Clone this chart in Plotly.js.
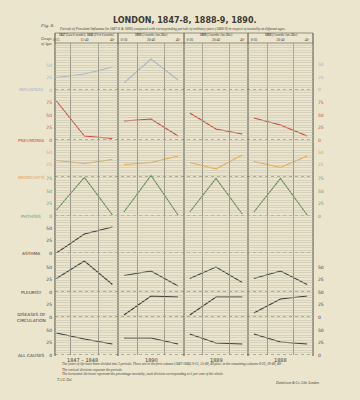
<!DOCTYPE html>
<html><head><meta charset="utf-8">
<script src="https://cdn.plot.ly/plotly-3.0.1.min.js"></script>
<style>html,body{margin:0;padding:0;background:#ebe5cd;} #chart{width:360px;height:400px;}</style>
</head><body><div id="chart"></div>
<script>
// ---------- DATA ----------
const periods = ["1847 – 1848", "1890", "1889", "1888"];
const periodHeaders = [
  "<b>1847</b> <i>(Last 6 months)</i>  <b>1848</b> <i>(First 6 months)</i>",
  "<b>1890</b> <i>(3 months Jan–Mar)</i>",
  "<b>1889</b> <i>(3 months Jan–Mar)</i>",
  "<b>1888</b> <i>(3 months Jan–Mar)</i>"
];
const ageGroupsFirst = ["0-15", "15-40", "40-"];
const ageGroups = ["0-20", "20-40", "40-"];
const diseases = ["INFLUENZA", "PNEUMONIA", "BRONCHITIS", "PHTHISIS", "ASTHMA", "PLEURISY", "DISEASES OF<br>CIRCULATION", "ALL CAUSES"];
// percentage mortality by age group, one row per period (null = no line)
const influenza   = [[25, 32, 46], [14, 62, 20], null, null];
const pneumonia   = [[78, 8, 3], [38, 42, 8], [54, 22, 12], [44, 30, 8]];
const bronchitis  = [[33, 27, 35], [25, 29, 42], [29, 16, 44], [31, 19, 42]];
const phthisis    = [[12, 77, 2], [8, 81, 2], [8, 75, 4], [8, 75, 2]];
const asthma      = [[0, 38, 52], null, null, null];
const pleurisy    = [[27, 62, 15], [33, 42, 12], [27, 50, 19], [27, 42, 15]];
const circulation = [null, [4, 42, 40], [4, 40, 40], [8, 36, 42]];
const allCauses   = [[44, 32, 22], [34, 34, 22], [42, 24, 22], [42, 26, 22]];
const leftTicks  = [[0, 25, 50], [0, 25, 50, 75], [25, 50], [0, 25, 50, 75], [0, 25, 50], [0, 25, 50], [0, 25], [0, 25, 50]];
const rightTicks = [[0, 25, 50], [0, 25, 50, 75], [25, 50], [0, 25, 50, 75], [], [25, 50], [0, 25, 50], [0, 25, 50]];

// ---------- LAYOUT CONSTANTS ----------
const W = 360, H = 400;
const px = x => x / W, py = y => 1 - y / H;
const L = 55, R = 313, TOP = 43, BOT = 355;
const periodEdges = [55, 118, 184, 248, 313];
const periodRanges = [[-0.05, 2.2], [-0.22, 2.22], [-0.22, 2.22], [-0.22, 2.22]];
const zeroPx = [90, 140, 177, 216, 253, 292, 317, 355];
const rangeMax = [66, 82, 55, 86, 55, 66, 50, 50];
const unitPx = 0.5;
const lineColors  = ["#a9b9c6", "#c9483b", "#eaa84c", "#5f8c55", "#4a3a32", "#3b473f", "#3a3935", "#3d3c38"];
const labelColors = ["#9fb1c0", "#c9483b", "#e4a04a", "#6a9662", "#3a3530", "#3a3a35", "#3a3a35", "#3a3a35"];
const series = [influenza, pneumonia, bronchitis, phthisis, asthma, pleurisy, circulation, allCauses];
const ink = "#3c3a34";
const serif = "Liberation Serif";
const sans = "DejaVu Sans";

const xName = p => p === 0 ? "x" : "x" + (p + 1);
const yName = d => d === 0 ? "y" : "y" + (d + 1);
const cats = p => p === 0 ? ageGroupsFirst : ageGroups;

const traces = [];
// dummy traces to create the ruled-grid subplots
for (let p = 0; p < 4; p++) {
  traces.push({type: "scatter", mode: "lines", x: cats(p), y: [null, null, null], xaxis: xName(p), yaxis: "y9", hoverinfo: "skip", showlegend: false});
}
series.forEach((s, d) => {
  s.forEach((vals, p) => {
    if (!vals) return;
    traces.push({
      type: "scatter", mode: "lines", x: cats(p), y: vals,
      xaxis: xName(p), yaxis: yName(d),
      line: {color: lineColors[d], width: 1.1},
      hoverinfo: "skip", showlegend: false
    });
  });
});

const layout = {
  width: W, height: H, margin: {l: 0, r: 0, t: 0, b: 0},
  paper_bgcolor: "#ebe5cd", plot_bgcolor: "rgba(0,0,0,0)",
  showlegend: false, hovermode: false,
  annotations: [], shapes: []
};

for (let p = 0; p < 4; p++) {
  layout[p === 0 ? "xaxis" : "xaxis" + (p + 1)] = {
    domain: [px(periodEdges[p]), px(periodEdges[p + 1])],
    type: "category", categoryarray: cats(p), range: periodRanges[p],
    side: "top", anchor: "y9",
    showgrid: true, tickson: "boundaries", gridcolor: "#8e8c7e", gridwidth: 0.7,
    ticks: "", showline: false, zeroline: false, ticklabelstandoff: 0,
    tickfont: {size: 3.5, family: serif, color: ink}, fixedrange: true
  };
}
layout.yaxis9 = {
  domain: [py(BOT), py(TOP)], range: [0, (BOT - TOP) / 2.5], anchor: "x",
  showgrid: true, dtick: 1, gridcolor: "#bfbdad", gridwidth: 0.5,
  showticklabels: false, zeroline: false, ticks: "", showline: false, fixedrange: true
};

series.forEach((s, d) => {
  const z = zeroPx[d];
  layout[d === 0 ? "yaxis" : "yaxis" + (d + 1)] = {
    domain: [py(z), py(z - rangeMax[d] * unitPx)],
    range: [0, rangeMax[d]], anchor: "free", position: px(L), side: "left",
    tickmode: "array", tickvals: leftTicks[d], ticktext: leftTicks[d].map(String),
    tickfont: {size: 4.5, family: sans, color: labelColors[d]},
    showgrid: false, zeroline: false, showline: false, ticks: "outside", ticklen: 2, tickcolor: "rgba(0,0,0,0)",
    fixedrange: true
  };
  layout.annotations.push({
    xref: "paper", yref: yName(d), x: px(31), y: 0, text: diseases[d],
    showarrow: false, xanchor: "center", yanchor: "middle",
    font: {size: 4.3, family: sans, color: labelColors[d]}
  });
  rightTicks[d].forEach(v => {
    layout.annotations.push({
      xref: "paper", yref: yName(d), x: px(316), y: v, text: String(v),
      showarrow: false, xanchor: "left", yanchor: "middle",
      font: {size: 4.5, family: sans, color: labelColors[d]}
    });
  });
  layout.shapes.push({
    type: "line", xref: "paper", yref: yName(d), x0: px(L), x1: px(R), y0: 0, y1: 0,
    line: {color: "#5a584f", width: 0.8, dash: "dot"}, layer: "below"
  });
});

// frame and period dividers
periodEdges.forEach(x => {
  layout.shapes.push({type: "line", xref: "paper", yref: "paper", x0: px(x), x1: px(x), y0: py(33), y1: py(BOT + 1),
    line: {color: "#4e4c44", width: 1}, layer: "below"});
});
[33, TOP].forEach(y => {
  layout.shapes.push({type: "line", xref: "paper", yref: "paper", x0: px(L), x1: px(R), y0: py(y), y1: py(y),
    line: {color: "#6e6c62", width: 0.7}, layer: "below"});
});

// header & period labels
periods.forEach((name, p) => {
  const cx = (periodEdges[p] + periodEdges[p + 1]) / 2;
  layout.annotations.push({xref: "paper", yref: "paper", x: px(cx), y: py(35.4), text: periodHeaders[p],
    showarrow: false, xanchor: "center", yanchor: "middle", font: {size: 3.1, family: serif, color: ink}});
  layout.annotations.push({xref: "paper", yref: "paper", x: px(p === 0 ? 82 : cx), y: py(360), text: name,
    showarrow: false, xanchor: "center", yanchor: "middle", font: {size: 5, family: sans, color: ink}});
});

const texts = [
  {x: 185, y: 21, t: "<b>LONDON, 1847-8, 1888-9, 1890.</b>", s: 8, f: sans, xa: "center"},
  {x: 38, y: 25, t: "<i>Fig. 8.</i>", s: 5, f: serif, xa: "left"},
  {x: 57, y: 29, t: "<i>Periods of Prevalent Influenza (in 1847-8 &amp; 1890) compared with corresponding periods of ordinary years (1888-9) in respect of mortality at different ages.</i>", s: 3.6, f: serif, xa: "left"},
  {x: 46, y: 41.5, t: "<i>Groups<br>of Ages</i>", s: 3.6, f: serif, xa: "center"},
  {x: 60, y: 364.5, t: "<i>The years of life have been divided into 3 periods. These are in the first column (1847-1848) 0-15, 15-40, 40 plus; in the remaining columns 0-20, 20-40, 40-.</i>", s: 3.5, f: serif, xa: "left"},
  {x: 60, y: 369.5, t: "<i>The vertical divisions separate the periods.</i>", s: 3.5, f: serif, xa: "left"},
  {x: 60, y: 374, t: "<i>The horizontal divisions represent the percentage mortality, each division corresponding to 5 per cent of the whole.</i>", s: 3.5, f: serif, xa: "left"},
  {x: 55, y: 380, t: "<i>T.A.G. Del.</i>", s: 3.4, f: serif, xa: "left"},
  {x: 322, y: 383, t: "<i>Danielsson &amp; Co. Lith. London.</i>", s: 3.4, f: serif, xa: "right"}
];
texts.forEach(o => layout.annotations.push({xref: "paper", yref: "paper", x: px(o.x), y: py(o.y), text: o.t,
  showarrow: false, xanchor: o.xa, yanchor: "middle", font: {size: o.s, family: o.f, color: ink}}));

Plotly.newPlot("chart", traces, layout, {staticPlot: true, displayModeBar: false});
</script></body></html>
